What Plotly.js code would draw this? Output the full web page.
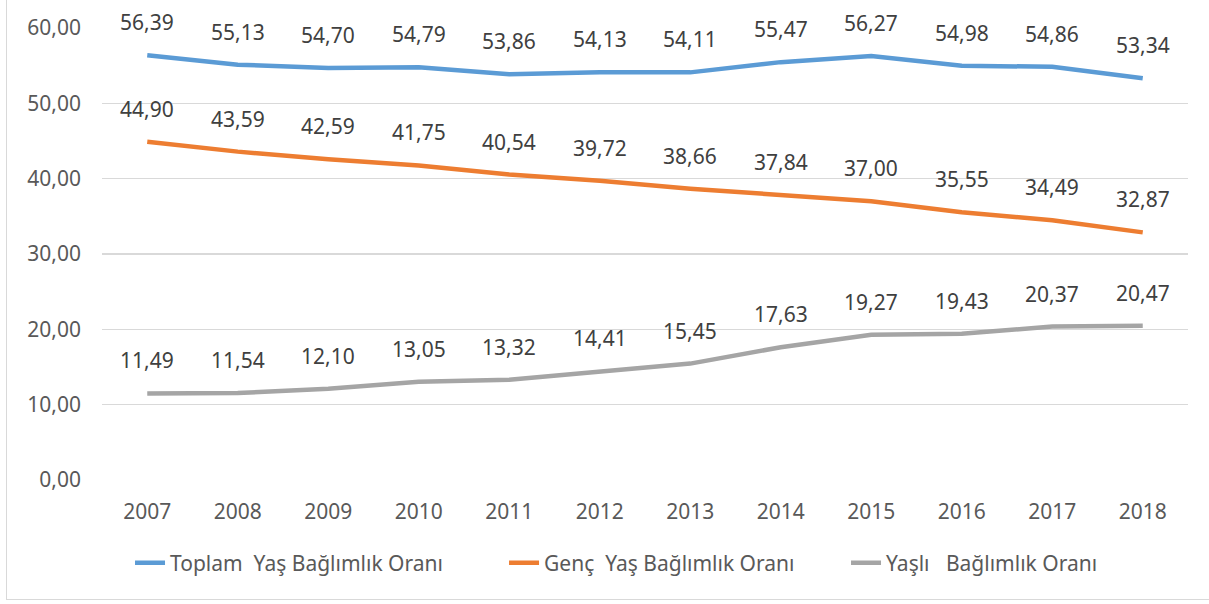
<!DOCTYPE html>
<html><head><meta charset="utf-8">
<script src="https://cdn.plot.ly/plotly-3.0.1.min.js"></script>
<style>
html,body{margin:0;padding:0;background:#fff;overflow:hidden;}
#wrap{position:relative;width:1209px;height:604px;}
#chart{position:absolute;left:0;top:0;width:1209px;height:604px;}
#frame{position:absolute;left:6px;top:-2px;width:1210px;height:602px;border:1px solid #d9d9d9;box-sizing:border-box;pointer-events:none;}
</style></head>
<body><div id="wrap"><div id="chart"></div><div id="frame"></div></div>
<script>
const years = ["2007","2008","2009","2010","2011","2012","2013","2014","2015","2016","2017","2018"];
const toplam = [56.39,55.13,54.70,54.79,53.86,54.13,54.11,55.47,56.27,54.98,54.86,53.34];
const genc = [44.90,43.59,42.59,41.75,40.54,39.72,38.66,37.84,37.00,35.55,34.49,32.87];
const yasli = [11.49,11.54,12.10,13.05,13.32,14.41,15.45,17.63,19.27,19.43,20.37,20.47];
const names = ["Toplam\u00a0 Yaş Bağlımlık Oranı","Genç\u00a0 Yaş Bağlımlık Oranı","Yaşlı\u00a0\u00a0 Bağlımlık Oranı"];
const colors = ["#5B9BD5","#ED7D31","#A5A5A5"];
const series = [toplam, genc, yasli];
const FONT = "Noto Sans, Open Sans, sans-serif";
const FS = 21;
const fmt = v => v.toFixed(2).replace(".", ",");
const legendIds = ["legend","legend2","legend3"];
const legendX = [0.0258, 0.3702, 0.6851];

const traces = series.map((s,i)=>({
  x: years, y: s, type: "scatter", mode: "lines", name: names[i], legend: legendIds[i],
  line: {color: colors[i], width: 4.5}, hoverinfo: "skip"
}));
const annotations = [];
series.forEach(s => s.forEach((v,j)=>{
  annotations.push({x: j, y: v, xref:"x", yref:"y", text: fmt(v), showarrow:false,
    yanchor:"middle", yshift: 33, font:{family:FONT, size:FS, color:"#404040"}});
}));
const layout = {
  width:1209, height:604,
  margin:{l:102, r:21, t:28, b:124},
  paper_bgcolor:"rgba(0,0,0,0)", plot_bgcolor:"#fff",
  font:{family:FONT, size:FS, color:"#595959"},
  showlegend:true,
  xaxis:{type:"category", range:[-0.5, 11.5], showgrid:false, zeroline:false, showline:false,
    ticks:"", ticklabelstandoff:17, tickfont:{size:FS, color:"#595959"}, fixedrange:true},
  yaxis:{range:[0,60], dtick:10, tick0:0, showgrid:true, gridcolor:"#d9d9d9", gridwidth:1.5,
    zeroline:false, showline:false, ticks:"", ticklabelstandoff:20,
    tickformat:".2f", tickfont:{size:FS, color:"#595959"}, fixedrange:true},
  separators:",.",
  annotations: annotations
};
legendIds.forEach((id,i)=>{
  layout[id] = {orientation:"h", x:legendX[i], xanchor:"left", y:-0.184, yanchor:"middle",
    font:{family:FONT, size:FS, color:"#595959"}, bgcolor:"rgba(0,0,0,0)"};
});
Plotly.newPlot("chart", traces, layout, {displayModeBar:false, staticPlot:true});
</script></body></html>
